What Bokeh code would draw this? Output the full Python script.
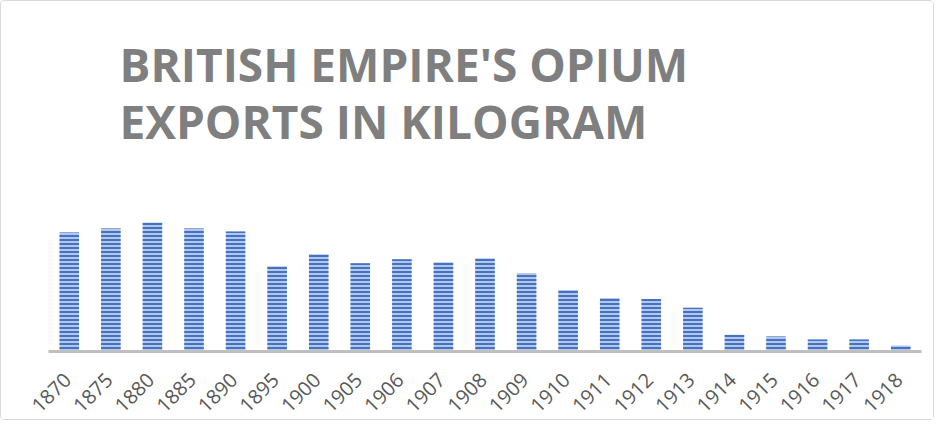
from bokeh.plotting import figure
from bokeh.models import Range1d, Title, LinearAxis, FixedTicker
from bokeh.embed import file_html
from bokeh.resources import INLINE

years = ["1870", "1875", "1880", "1885", "1890", "1895", "1900", "1905", "1906", "1907",
         "1908", "1909", "1910", "1911", "1912", "1913", "1914", "1915", "1916", "1917", "1918"]
# opium exports, kilograms
exports_kg = [6000000, 6200000, 6500000, 6200000, 6050000, 4300000, 4900000, 4450000,
              4650000, 4500000, 4700000, 3950000, 3100000, 2700000, 2650000, 2200000,
              850000, 750000, 600000, 600000, 300000]
title_lines = ["BRITISH EMPIRE'S OPIUM", "EXPORTS IN KILOGRAM"]

n = len(years)
slots = [i + 0.5 for i in range(n)]  # one slot per year category

W, H = 934, 420
p = figure(width=W, height=H, output_backend="svg", toolbar_location=None,
           tools="", x_axis_location=None, y_axis_location=None,
           x_range=Range1d(0, n), y_range=Range1d(0, max(exports_kg) * 172 / 129),
           min_border_left=47, min_border_right=14, min_border_bottom=70,
           min_border_top=178)

p.vbar(x=slots, top=exports_kg, width=0.47, fill_color="#b4c7e7", line_color=None,
       hatch_pattern="horizontal_line", hatch_color="#4472c4", hatch_scale=4,
       hatch_weight=2)

# category axis, nudged so the rotated year labels end under their bars
shift = 0.04
p.extra_x_ranges = {"labels": Range1d(shift, n + shift)}
ax = LinearAxis(x_range_name="labels", ticker=FixedTicker(ticks=slots),
                major_label_overrides={t: y for t, y in zip(slots, years)})
ax.axis_line_color = "#bfbfbf"
ax.axis_line_width = 3
ax.major_tick_line_color = None
ax.minor_tick_line_color = None
ax.major_label_orientation = 0.785398
ax.major_label_text_font = "Open Sans"
ax.major_label_text_font_size = "20px"
ax.major_label_text_color = "#595959"
ax.major_label_standoff = 19
p.add_layout(ax, "below")

p.title = Title(text="\n".join(title_lines), align="left", offset=71,
                text_font="Open Sans", text_font_size="46px", text_font_style="bold",
                text_color="#7f7f7f", text_line_height=0.92, standoff=54)

p.ygrid.visible = False
p.xgrid.visible = False
p.outline_line_color = None
p.background_fill_color = "white"
p.border_fill_color = "white"
p.styles = {"border": "1px solid #d9d9d9", "border-radius": "4px"}

open("out.html", "w").write(file_html(p, INLINE))
